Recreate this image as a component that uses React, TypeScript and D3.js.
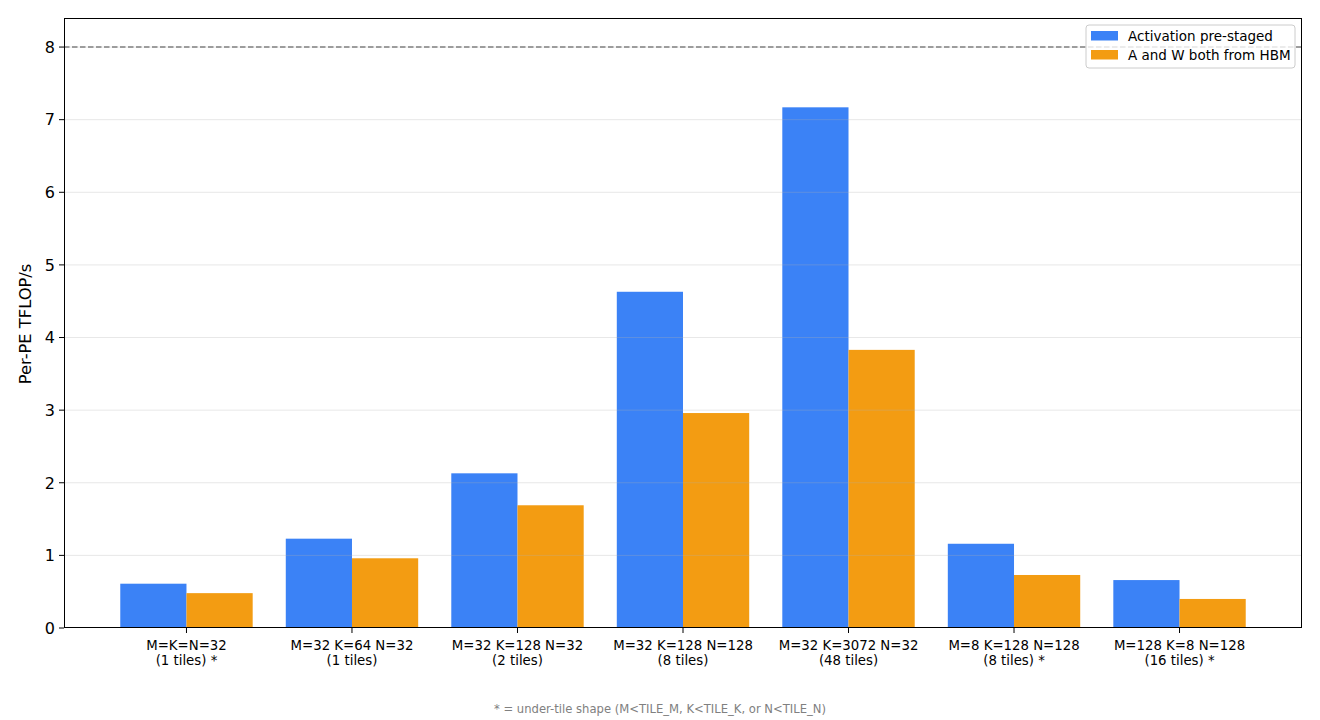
import React from 'react';
import * as d3 from 'd3';

// shapes and measured throughput (per-PE TFLOP/s)
const shapeLabels = [
  'M=K=N=32',
  'M=32 K=64 N=32',
  'M=32 K=128 N=32',
  'M=32 K=128 N=128',
  'M=32 K=3072 N=32',
  'M=8 K=128 N=128',
  'M=128 K=8 N=128',
];
const tileLabels = [
  '(1 tiles) *',
  '(1 tiles)',
  '(2 tiles)',
  '(8 tiles)',
  '(48 tiles)',
  '(8 tiles) *',
  '(16 tiles) *',
];
const preStaged = [0.61, 1.23, 2.13, 4.63, 7.17, 1.16, 0.66];
const bothHbm = [0.48, 0.96, 1.69, 2.96, 3.83, 0.73, 0.4];
const seriesNames = ['Activation pre-staged', 'A and W both from HBM'];
const seriesColors = ['#3b82f6', '#f39c12'];
const peakLine = 8;
const yTicks = [0, 1, 2, 3, 4, 5, 6, 7, 8];

const W = 1320;
const H = 720;
const margin = { top: 18, right: 18, bottom: 92, left: 64 };
const font = 'DejaVu Sans, sans-serif';

const App: React.FC = () => {
  const innerW = W - margin.left - margin.right;
  const innerH = H - margin.top - margin.bottom;

  // matplotlib-style linear x: bars at integer positions, width 0.4 each
  const n = shapeLabels.length;
  const barW = 0.4;
  const pad = (n - 1 + 2 * barW) * 0.05;
  const x = d3.scaleLinear()
    .domain([-barW - pad, n - 1 + barW + pad])
    .range([0, innerW]);
  const y = d3.scaleLinear().domain([0, 8.4]).range([innerH, 0]);

  const series = [preStaged, bothHbm];

  return (
    <div style={{ position: 'absolute', left: 0, top: 0 }}>
      <svg width={W} height={H} style={{ display: 'block', background: '#fff' }}>
        <g transform={`translate(${margin.left},${margin.top})`}>
          {/* bars */}
          {series.map((vals, si) =>
            vals.map((v, i) => {
              const x0 = x(i - barW + si * barW);
              const x1 = x(i + si * barW);
              return (
                <rect
                  key={`${si}-${i}`}
                  x={x0}
                  y={y(v)}
                  width={x1 - x0}
                  height={innerH - y(v)}
                  fill={seriesColors[si]}
                />
              );
            })
          )}

          {/* grid, drawn above bars like the original */}
          {yTicks.slice(1).map(t => (
            <line
              key={`g${t}`}
              x1={0}
              x2={innerW}
              y1={y(t)}
              y2={y(t)}
              stroke="#b0b0b0"
              strokeOpacity={0.3}
              strokeWidth={1}
            />
          ))}

          {/* peak reference */}
          <line
            x1={0}
            x2={innerW}
            y1={y(peakLine)}
            y2={y(peakLine)}
            stroke="#808080"
            strokeWidth={1.5}
            strokeDasharray="5.5,2.5"
          />

          {/* frame */}
          <rect
            x={0.5}
            y={0.5}
            width={innerW - 1}
            height={innerH - 1}
            fill="none"
            stroke="#000"
            strokeWidth={1}
          />

          {/* y axis */}
          {yTicks.map(t => (
            <g key={`y${t}`} transform={`translate(0,${y(t)})`}>
              <line x1={-5} x2={0} stroke="#000" />
              <text x={-9} dy="0.36em" textAnchor="end" fontFamily={font} fontSize={16} fill="#000">
                {t}
              </text>
            </g>
          ))}
          <text
            transform={`translate(${-33},${innerH / 2 + 1}) rotate(-90)`}
            textAnchor="middle"
            fontFamily={font}
            fontSize={16.3}
            fill="#000"
          >
            Per-PE TFLOP/s
          </text>

          {/* x axis */}
          {shapeLabels.map((s, i) => (
            <g key={`x${i}`} transform={`translate(${x(i)},${innerH})`}>
              <line y1={0} y2={5} stroke="#000" />
              <text y={22} textAnchor="middle" fontFamily={font} fontSize={13.3} fill="#000">
                {s}
              </text>
              <text y={37} textAnchor="middle" fontFamily={font} fontSize={13.3} fill="#000">
                {tileLabels[i]}
              </text>
            </g>
          ))}

          {/* legend */}
          <g transform={`translate(${innerW - 216},7)`}>
            <rect x={0} y={0} width={209} height={43} rx={3} fill="#fff" fillOpacity={0.8} stroke="#ccc" />
            {seriesNames.map((name, i) => (
              <g key={name} transform={`translate(5,${6 + i * 19})`}>
                <rect x={0} y={0} width={27} height={9.5} fill={seriesColors[i]} />
                <text x={37} y={10} fontFamily={font} fontSize={13.5} fill="#000">
                  {name}
                </text>
              </g>
            ))}
          </g>
        </g>

        {/* footnote */}
        <text x={W / 2} y={713} textAnchor="middle" fontFamily={font} fontSize={11.6} fill="#808080">
          * = under-tile shape (M&lt;TILE_M, K&lt;TILE_K, or N&lt;TILE_N)
        </text>
      </svg>
    </div>
  );
};

export default App;
